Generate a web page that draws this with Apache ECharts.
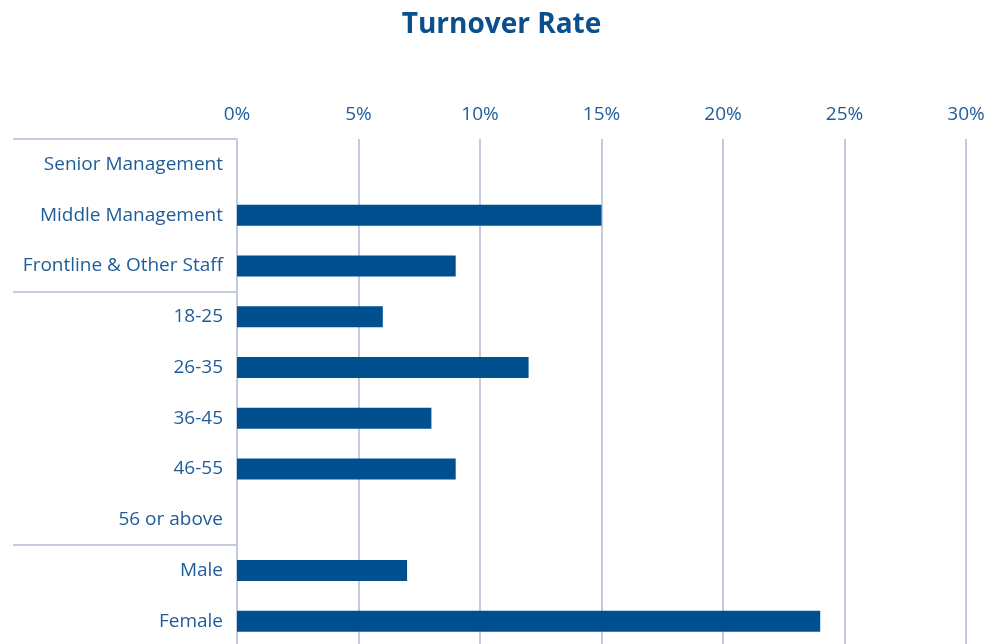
<!DOCTYPE html>
<html><head><meta charset="utf-8">
<script src="https://cdn.jsdelivr.net/npm/echarts@6/dist/echarts.min.js"></script>
<style>html,body{margin:0;padding:0;background:#fff;overflow:hidden}#c{width:1003px;height:652px}</style>
</head><body><div id="c"></div>
<script>
const categories = ["Senior Management","Middle Management","Frontline & Other Staff","18-25","26-35","36-45","46-55","56 or above","Male","Female"];
const values = [0, 15, 9, 6, 12, 8, 9, 0, 7, 24];
const groupStarts = [0, 3, 8];
const tickValues = [0, 5, 10, 15, 20, 25, 30];

const chart = echarts.init(document.getElementById('c'));
const txt = '#1f5c9a';
const grid = '#c5cbdf';
chart.setOption({
  animation: false,
  title: { text: 'Turnover Rate', left: 'center', top: 6,
    textStyle: { color: '#0b4f8e', fontSize: 28, fontWeight: 'bold', fontFamily: 'Open Sans' } },
  grid: { left: 237, width: 729, top: 139, height: 507.5, containLabel: false },
  xAxis: { type: 'value', position: 'top', min: tickValues[0], max: tickValues[tickValues.length-1], interval: 5,
    axisLine: { show: false }, axisTick: { show: false },
    axisLabel: { formatter: '{value}%', color: txt, fontSize: 19, fontFamily: 'Open Sans', margin: 15 },
    splitLine: { show: true, lineStyle: { color: grid, width: 2 } } },
  yAxis: { type: 'category', data: categories, inverse: true,
    axisLine: { show: true, lineStyle: { color: grid, width: 2 } },
    axisTick: { show: true, length: 224, interval: (i) => groupStarts.includes(i), lineStyle: { color: grid, width: 2 } },
    axisLabel: { color: txt, fontSize: 19, fontFamily: 'Open Sans', margin: 14 } },
  series: [{ type: 'bar', data: values, barWidth: 21, itemStyle: { color: '#00508f' } }]
});
</script></body></html>
